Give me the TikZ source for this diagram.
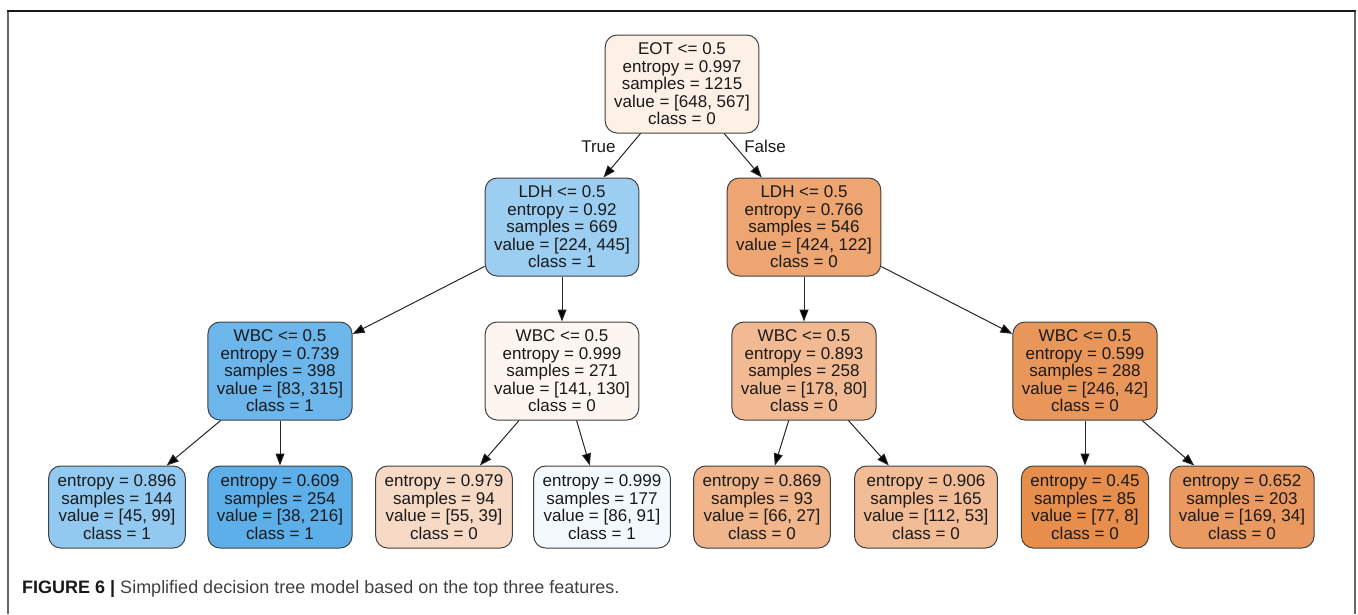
\documentclass[tikz,border=0pt]{standalone}
\usepackage{fontspec}
\setmainfont{Liberation Sans}
\usepackage{tikz}
\usetikzlibrary{positioning}
\usetikzlibrary{arrows.meta}
\definecolor{zero}{RGB}{229,129,57}
\definecolor{one}{RGB}{57,157,229}
\tikzset{%
  treearrow/.style = {-{Triangle[length=12pt,width=9pt]},draw=black!85,line width=1pt},
  treebox/.style = {rectangle,rounded corners=12pt,draw=black!75,line width=1pt,
        align=center,inner xsep=9pt},
  splitbox/.style = {treebox,minimum height=98pt},
  leafbox/.style = {treebox,minimum height=82pt}
}
\begin{document}
\begin{tikzpicture}[x=1pt,y=1pt,font={\fontsize{17}{17.5}\selectfont},text=black!90]
  \useasboundingbox (0,0) rectangle (1358,-614);
  % frame
  \draw[black!60,line width=2pt] (8,-11) -- (8,-614);
  \draw[black!60,line width=2pt] (1355,-11) -- (1355,-614);
  \draw[black!90,line width=1.5pt] (7,-11) -- (1356,-11);

  \node[splitbox,fill=zero!12] (n0) at (682,-84) {EOT <= 0.5\\entropy = 0.997\\samples = 1215\\value = [648, 567]\\class = 0};
  \node[splitbox,fill=one!50] (n1) [below=44pt of n0, xshift=-120pt] {LDH <= 0.5\\entropy = 0.92\\samples = 669\\value = [224, 445]\\class = 1};
  \node[splitbox,fill=zero!71] (n2) [below=44pt of n0, xshift=122pt] {LDH <= 0.5\\entropy = 0.766\\samples = 546\\value = [424, 122]\\class = 0};

  \node[splitbox,fill=one!74] (n3) [below=45pt of n1, xshift=-282pt] {WBC <= 0.5\\entropy = 0.739\\samples = 398\\value = [83, 315]\\class = 1};
  \node[splitbox,fill=zero!8] (n4) [below=45pt of n1] {WBC <= 0.5\\entropy = 0.999\\samples = 271\\value = [141, 130]\\class = 0};
  \node[splitbox,fill=zero!55] (n5) [below=45pt of n2] {WBC <= 0.5\\entropy = 0.893\\samples = 258\\value = [178, 80]\\class = 0};
  \node[splitbox,fill=zero!83] (n6) [below=45pt of n2, xshift=281pt] {WBC <= 0.5\\entropy = 0.599\\samples = 288\\value = [246, 42]\\class = 0};

  \node[leafbox,fill=one!55] (n7) [below=45pt of n3, xshift=-163pt] {entropy = 0.896\\samples = 144\\value = [45, 99]\\class = 1};
  \node[leafbox,fill=one!82] (n8) [below=45pt of n3] {entropy = 0.609\\samples = 254\\value = [38, 216]\\class = 1};
  \node[leafbox,fill=zero!29] (n9) [below=45pt of n4, xshift=-118pt] {entropy = 0.979\\samples = 94\\value = [55, 39]\\class = 0};
  \node[leafbox,fill=one!6] (n10) [below=45pt of n4, xshift=40pt] {entropy = 0.999\\samples = 177\\value = [86, 91]\\class = 1};
  \node[leafbox,fill=zero!59] (n11) [below=45pt of n5, xshift=-42pt] {entropy = 0.869\\samples = 93\\value = [66, 27]\\class = 0};
  \node[leafbox,fill=zero!53] (n12) [below=45pt of n5, xshift=122pt] {entropy = 0.906\\samples = 165\\value = [112, 53]\\class = 0};
  \node[leafbox,fill=zero!90] (n13) [below=45pt of n6] {entropy = 0.45\\samples = 85\\value = [77, 8]\\class = 0};
  \node[leafbox,fill=zero!80] (n14) [below=45pt of n6, xshift=157pt] {entropy = 0.652\\samples = 203\\value = [169, 34]\\class = 0};

  \path[treearrow] (n0) edge node[pos=0.3, left=10pt] {True} (n1)
                   (n0) edge node[pos=0.3, right=5pt] {False} (n2)
                   (n1) edge (n3)
                   (n1) edge (n4)
                   (n2) edge (n5)
                   (n2) edge (n6)
                   (n3) edge (n7)
                   (n3) edge (n8)
                   (n4) edge (n9)
                   (n4) edge (n10)
                   (n5) edge (n11)
                   (n5) edge (n12)
                   (n6) edge (n13)
                   (n6) edge (n14);

  \node[anchor=base west, inner sep=0pt, font={\fontsize{18}{20}\selectfont}] (cap) at (22,-593)
    {\textbf{FIGURE 6 |} \textcolor{black!75}{Simplified decision tree model based on the top three features.}};
\end{tikzpicture}
\end{document}
